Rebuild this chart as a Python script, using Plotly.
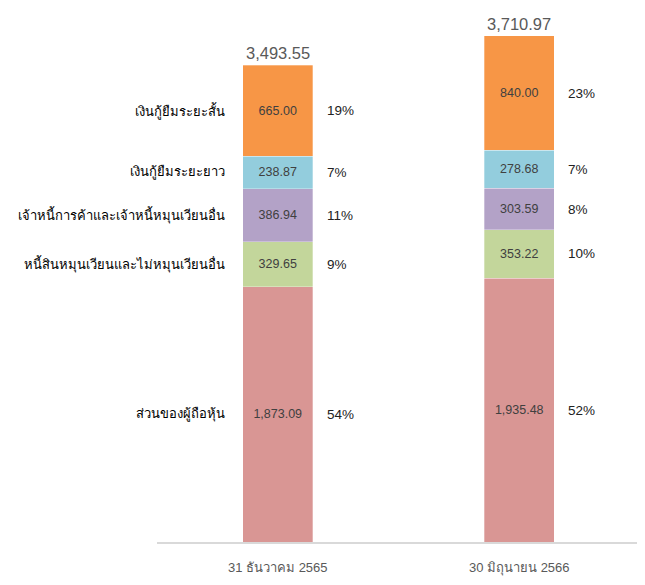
import plotly.graph_objects as go

categories = ["31 ธันวาคม 2565", "30 มิถุนายน 2566"]
series_names = [
    "ส่วนของผู้ถือหุ้น",
    "หนี้สินหมุนเวียนและไม่หมุนเวียนอื่น",
    "เจ้าหนี้การค้าและเจ้าหนี้หมุนเวียนอื่น",
    "เงินกู้ยืมระยะยาว",
    "เงินกู้ยืมระยะสั้น",
]
equity = [1873.09, 1935.48]
other_liab = [329.65, 353.22]
payables = [386.94, 303.59]
long_loans = [238.87, 278.68]
short_loans = [665.00, 840.00]
pct_labels = [
    ["54%", "52%"],
    ["9%", "10%"],
    ["11%", "8%"],
    ["7%", "7%"],
    ["19%", "23%"],
]
totals = [3493.55, 3710.97]
colors = ["#D99694", "#C3D69B", "#B3A2C7", "#93CDDD", "#F79646"]

series_values = [equity, other_liab, payables, long_loans, short_loans]
FONT = "Liberation Sans, Arial, sans-serif"

fig = go.Figure()
for name, vals, col in zip(series_names, series_values, colors):
    fig.add_trace(go.Bar(
        x=categories, y=vals, name=name,
        marker=dict(color=col, line=dict(color="rgba(255,255,255,0.6)", width=0.5)),
        width=0.29,
        text=[f"{v:,.2f}" for v in vals],
        textposition="inside", insidetextanchor="middle",
        constraintext="none", textangle=0,
        textfont=dict(size=12.5, color="#404040", family=FONT),
        hoverinfo="skip",
    ))

annotations = []
for ci, cat in enumerate(categories):
    base = 0.0
    for si, vals in enumerate(series_values):
        mid = base + vals[ci] / 2
        base += vals[ci]
        annotations.append(dict(
            x=ci, y=mid, xref="x", yref="y", text=pct_labels[si][ci],
            showarrow=False, xanchor="left", xshift=47,
            font=dict(size=13.5, color="#222222", family=FONT)))
        if ci == 0:
            annotations.append(dict(
                x=ci, y=mid, xref="x", yref="y", text=series_names[si],
                showarrow=False, xanchor="right", xshift=-51,
                font=dict(size=13, color="#000000", family=FONT)))
    annotations.append(dict(
        x=ci, y=totals[ci], xref="x", yref="y", text=f"{totals[ci]:,.2f}",
        showarrow=False, yanchor="bottom", yshift=1,
        font=dict(size=16.5, color="#595959", family=FONT)))

fig.update_layout(
    barmode="stack",
    width=645, height=585,
    margin=dict(l=149, r=13, t=12, b=51),
    paper_bgcolor="white", plot_bgcolor="white",
    showlegend=False,
    annotations=annotations,
    font=dict(family=FONT),
    xaxis=dict(
        type="category", categoryorder="array", categoryarray=categories,
        range=[-0.5, 1.5], fixedrange=True,
        showline=True, linecolor="#D9D9D9", linewidth=1.5,
        showgrid=False, ticks="", ticklabelstandoff=13,
        tickfont=dict(size=13, color="#595959", family=FONT),
    ),
    yaxis=dict(range=[0, 3827], visible=False, showgrid=False),
)

fig.write_html("out.html")
